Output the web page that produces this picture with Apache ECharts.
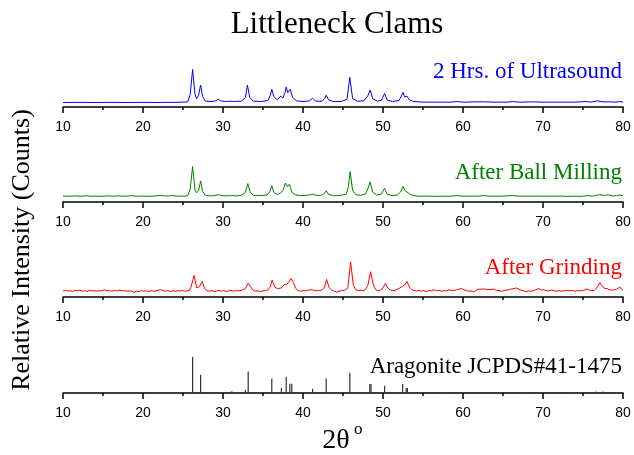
<!DOCTYPE html>
<html>
<head>
<meta charset="utf-8">
<script src="https://cdn.jsdelivr.net/npm/echarts@6/dist/echarts.min.js"></script>
<style>html,body{margin:0;padding:0;background:#fff;}#c{width:634px;height:455px;}</style>
</head>
<body>
<div id="c"></div>
<script>
// ---- data (2θ, relative intensity; tallest peak of each pattern = 100) ----
var xTicks = [10, 20, 30, 40, 50, 60, 70, 80];
var panelLabels = ['2 Hrs. of Ultrasound', 'After Ball Milling', 'After Grinding', 'Aragonite JCPDS#41-1475'];

var ultrasound = [[10,0],[12,0.5],[14,0],[16,0.5],[18,0],[20,0.5],[22,0],[23,0.5],[24,0.5],[25,1],[25.6,2],[25.9,25],[26.2,100],[26.5,25],[26.7,12],[26.95,22],[27.2,53],[27.45,18],[27.8,4],[28.5,3],[29.1,5],[29.4,10],[29.7,5],[30.3,3],[30.9,4],[31.1,5],[31.3,3],[32.3,4],[32.8,15],[33.05,53],[33.35,15],[33.8,4],[34.8,3],[35.6,6],[35.9,20],[36.1,40],[36.35,18],[36.8,8],[37.2,19],[37.5,14],[37.75,30],[37.9,47],[38.1,30],[38.4,40],[38.7,15],[39.2,5],[40,3],[40.8,5],[41.2,13],[41.6,4],[42.4,4],[42.7,12],[42.9,22],[43.2,8],[43.8,3],[44.8,3],[45.5,10],[45.85,76],[46.2,12],[46.8,4],[47.6,5],[48.1,20],[48.4,38],[48.7,12],[49.3,4],[49.8,7],[50.2,27],[50.5,8],[51.2,3],[52.0,6],[52.3,20],[52.5,31],[52.7,17],[53.0,19],[53.3,8],[53.8,3],[55,1],[57,1],[58.5,1],[59.3,3],[60,1],[61.7,2],[62.7,2],[64,1],[65.5,1],[66.2,3],[67,1],[68.8,2],[70,1],[72,1],[74,1],[75.4,3],[76,1],[76.8,5],[77.5,2],[78.2,2],[79,1],[79.6,3],[80,1]];

var ballMilling = [[10,1],[10.5,1.5],[11,1],[11.5,2],[12,1],[12.5,1.5],[13,2.5],[13.5,1],[14,1.5],[14.5,0.5],[15,1],[15.7,2],[16.3,1],[17,2],[17.6,1],[18.2,1.5],[18.6,3],[19,1],[19.5,1],[20,1.5],[20.5,0.5],[21,1],[21.5,1.5],[22.2,4],[22.7,2],[23.2,2],[23.6,3],[24.2,1.5],[24.8,1],[25.3,1.5],[25.6,3],[25.9,25],[26.2,100],[26.5,22],[26.7,12],[26.95,20],[27.2,52],[27.45,17],[27.8,4],[28.4,2],[29.0,3],[29.4,6],[29.8,3],[30.5,2],[31.1,3],[31.6,2],[32.3,4],[32.8,14],[33.1,43],[33.4,14],[33.8,4],[34.6,3],[35.5,5],[35.85,16],[36.1,36],[36.35,14],[36.8,6],[37.2,12],[37.5,20],[37.8,45],[38.05,33],[38.3,41],[38.6,14],[39.1,5],[39.8,3],[40.6,4],[41.2,8],[41.6,4],[42.3,4],[42.65,10],[42.9,19],[43.2,7],[43.8,3],[44.6,3],[45.4,8],[45.65,30],[45.9,83],[46.2,20],[46.6,6],[47.2,4],[47.8,8],[48.15,28],[48.4,49],[48.7,15],[49.2,5],[49.8,8],[50.2,28],[50.5,8],[51.1,3],[51.8,5],[52.2,15],[52.5,33],[52.75,20],[53.0,23],[53.3,9],[53.8,3],[54.5,1],[55.5,1.5],[56.5,0.5],[57.5,1],[58.5,1],[59.3,3],[60,1],[61,1.5],[61.8,1],[62.5,3],[63.3,1],[64,1],[65,1.5],[66.2,3],[67,1],[67.6,1.5],[68.5,1],[69.3,1.5],[70,1],[71,1],[72,1.5],[73,0.5],[74,1],[74.8,0.5],[75.5,3],[76.2,1],[76.8,5],[77.1,6],[77.6,4],[78.2,5],[78.8,2],[79.2,3],[79.6,5],[80,2]];

var grinding = [[10,2],[10.3,4],[10.6,1],[10.9,3],[11.2,0],[11.5,4],[11.8,2],[12.1,5],[12.4,1],[12.7,3],[13.0,0],[13.3,4],[13.6,2],[13.9,3],[14.2,1],[14.5,3],[14.8,2],[15.2,6],[15.5,2],[15.8,3],[16.1,1],[16.4,3],[16.7,2],[17.1,5],[17.4,2],[17.7,3],[18.0,1],[18.3,2],[18.6,1],[18.9,-3],[19.2,1],[19.5,0],[19.8,3],[20.1,1],[20.4,2],[20.7,0],[21.0,3],[21.3,1],[21.6,2],[21.9,4],[22.2,7],[22.5,3],[22.8,1],[23.1,3],[23.4,0],[23.7,2],[24.0,1],[24.3,3],[24.6,1],[24.9,4],[25.2,1],[25.5,2],[25.8,4],[26.0,15],[26.4,55],[26.7,12],[26.9,8],[27.1,18],[27.4,34],[27.7,10],[28.0,3],[28.3,1],[28.6,3],[28.9,0],[29.2,2],[29.5,4],[29.8,1],[30.1,3],[30.4,0],[30.7,2],[31.0,4],[31.3,1],[31.6,3],[32.0,2],[32.4,5],[32.8,10],[33.15,28],[33.5,14],[33.8,3],[34.1,1],[34.4,2],[34.7,0],[35.0,2],[35.3,3],[35.6,5],[35.9,15],[36.15,39],[36.45,15],[36.8,10],[37.0,15],[37.3,12],[37.6,22],[37.9,24],[38.2,30],[38.5,44],[38.8,30],[39.1,10],[39.4,3],[39.7,1],[40.0,3],[40.3,2],[40.6,4],[40.9,6],[41.2,5],[41.5,2],[41.8,4],[42.1,3],[42.4,6],[42.7,15],[42.95,41],[43.25,14],[43.6,4],[43.9,1],[44.2,-2],[44.5,1],[44.8,3],[45.2,4],[45.6,12],[45.95,100],[46.3,20],[46.6,6],[46.9,3],[47.2,4],[47.5,3],[47.8,6],[48.1,20],[48.45,67],[48.8,22],[49.1,6],[49.4,3],[49.7,5],[50.0,12],[50.3,28],[50.6,12],[50.9,5],[51.2,3],[51.5,4],[51.8,8],[52.1,12],[52.4,17],[52.7,22],[53.0,34],[53.3,15],[53.6,6],[53.9,3],[54.2,2],[54.5,4],[54.8,1],[55.1,3],[55.4,0],[55.7,3],[56.0,2],[56.4,6],[56.7,2],[57.0,4],[57.3,1],[57.6,3],[57.9,2],[58.2,5],[58.6,4],[58.9,3],[59.2,6],[59.5,8],[59.8,10],[60.1,6],[60.4,3],[60.7,1],[61.0,2],[61.3,-1],[61.6,3],[61.9,8],[62.1,12],[62.4,8],[62.7,9],[63.0,6],[63.2,10],[63.5,7],[63.9,8],[64.2,4],[64.5,3],[64.8,1],[65.1,3],[65.4,4],[65.7,6],[66.0,8],[66.4,10],[66.7,12],[67.0,7],[67.3,4],[67.6,2],[67.9,-1],[68.2,2],[68.5,1],[68.8,3],[69.1,6],[69.5,10],[69.8,5],[70.1,6],[70.4,3],[70.7,2],[71.1,5],[71.4,2],[71.7,1],[72.0,3],[72.3,1],[72.6,2],[72.9,4],[73.2,2],[73.6,4],[73.9,1],[74.2,3],[74.5,2],[74.8,3],[75.1,4],[75.5,9],[75.8,4],[76.1,3],[76.4,4],[76.8,15],[77.1,30],[77.4,20],[77.7,10],[78.0,10],[78.3,6],[78.6,5],[78.9,6],[79.2,8],[79.6,15],[79.9,6],[80,5]];

var jcpdsPos = [21.0,26.2,27.2,31.1,32.8,33.15,36.1,37.3,37.9,38.35,38.6,41.2,42.9,45.85,48.35,48.5,50.2,52.45,52.9,53.05,54.3,55.2,55.8,56.8,58.1,58.8,59.4,60.4,62.0,62.7,63.9,64.9,65.9,66.5,66.9,68.1,68.8,69.5,70.5,71.2,72.3,73.0,74.3,75.6,76.2,76.6,77.0,77.5,77.9,78.5,79.1,79.6];
var jcpdsInt = [2,100,51,5,9,60,40,14,45,26,26,12,40,56,25,25,20,25,14,14,2,2,2,2,2,2,3,2,2,3,2,2,3,2,2,2,3,2,2,2,2,2,2,3,2,4,3,4,2,3,2,3];

// ---- layout ----
var axisY = [107, 202, 297, 393];      // pixel y of each panel's x axis
var baseAbove = [4.5, 5.5, 5.5, 0];    // baseline pixels above axis
var peakAbove = [37.5, 35.5, 35, 36];  // 100-value pixels above axis
var colors = ['#0000ff', '#008000', '#ff0000', '#333333'];
var H = 46;

var chart = echarts.init(document.getElementById('c'), null, {renderer: 'canvas'});
var grids = [], xAxes = [], yAxes = [], series = [], graphics = [];
var seriesData = [ultrasound, ballMilling, grinding];
var serif = '"Liberation Serif", "Times New Roman", serif';

for (var i = 0; i < 4; i++) {
  grids.push({left: 63, right: 11, top: axisY[i] - H, height: H, containLabel: false});
  var s = (peakAbove[i] - baseAbove[i]) / 100;
  var ymin = -baseAbove[i] / s;
  xAxes.push({
    type: 'value', gridIndex: i, min: 10, max: 80, interval: 10,
    axisLine: {show: true, onZero: false, lineStyle: {color: '#000', width: 1.5}},
    axisTick: {show: true, inside: false, length: 6, lineStyle: {color: '#000', width: 1.5}},
    minorTick: {show: true, splitNumber: 2, length: 3, lineStyle: {color: '#000', width: 1.5}},
    splitLine: {show: false},
    axisLabel: {show: true, margin: 13, color: '#000', fontSize: 14, fontFamily: 'Liberation Sans, Arial, sans-serif',
      formatter: function (v) { return xTicks.indexOf(v) >= 0 ? String(v) : ''; }}
  });
  yAxes.push({type: 'value', gridIndex: i, min: ymin, max: ymin + H / s, show: false});
  if (i < 3) {
    series.push({type: 'line', xAxisIndex: i, yAxisIndex: i, data: seriesData[i], showSymbol: false,
      lineStyle: {color: colors[i], width: 1}, silent: true, animation: false});
  } else {
    series.push({type: 'bar', xAxisIndex: i, yAxisIndex: i, barWidth: 1.2,
      data: jcpdsPos.map(function (p, k) { return [p, jcpdsInt[k]]; }),
      itemStyle: {color: colors[i]}, silent: true, animation: false});
  }
  graphics.push({type: 'text', right: 12, top: [60, 161, 256, 355][i],
    style: {text: panelLabels[i], fill: i < 3 ? colors[i] : '#000', font: '23px ' + serif}});
}

graphics.push({type: 'text', x: 337, y: 25,
  style: {text: 'Littleneck Clams', fill: '#000', font: '31px ' + serif, align: 'center', verticalAlign: 'middle'}});
graphics.push({type: 'text', x: 22, y: 250, rotation: Math.PI / 2,
  style: {text: 'Relative Intensity (Counts)', fill: '#000', font: '26px ' + serif, align: 'center', verticalAlign: 'middle'}});
graphics.push({type: 'text', x: 336, y: 441,
  style: {text: '2θ', fill: '#000', font: '28px ' + serif, align: 'center', verticalAlign: 'middle'}});
graphics.push({type: 'text', x: 354, y: 430,
  style: {text: 'o', fill: '#000', font: '17px ' + serif, align: 'left', verticalAlign: 'middle'}});

chart.setOption({
  animation: false,
  backgroundColor: '#fff',
  grid: grids, xAxis: xAxes, yAxis: yAxes, series: series, graphic: graphics
});
</script>
</body>
</html>
